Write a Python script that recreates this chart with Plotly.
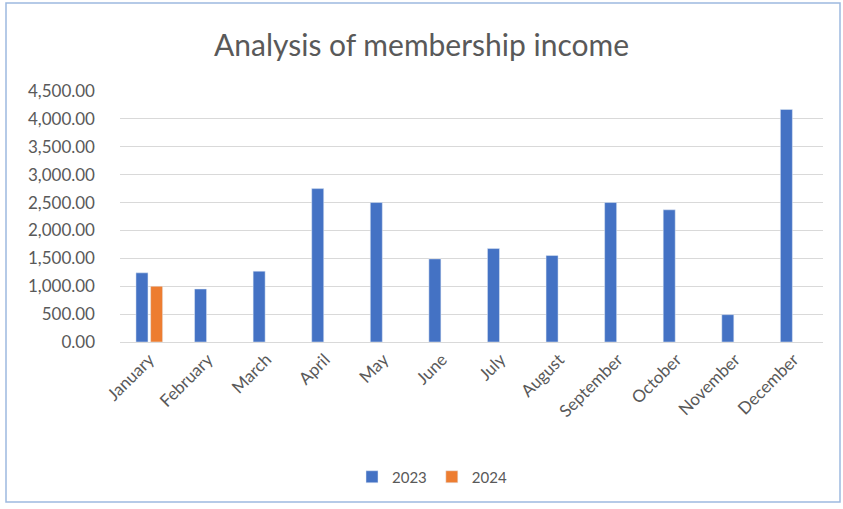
import plotly.graph_objects as go

months = ["January", "February", "March", "April", "May", "June", "July",
          "August", "September", "October", "November", "December"]
income_2023 = [1240, 950, 1270, 2750, 2500, 1490, 1675, 1550, 2500, 2370, 490, 4170]
income_2024 = [1000, None, None, None, None, None, None, None, None, None, None, None]

fig = go.Figure()
fig.add_trace(go.Bar(name="2023", x=months, y=income_2023, marker_color="#4472C4"))
fig.add_trace(go.Bar(name="2024", x=months, y=income_2024, marker_color="#ED7D31"))

W, H = 843, 509
ml, mr, mt, mb = 120, 20, 91, 167
pw, ph = W - ml - mr, H - mt - mb

def px_x(x):
    return (x - ml) / pw

def px_y(y):
    return (H - mb - y) / ph

fig.update_layout(
    width=W, height=H,
    margin=dict(l=ml, r=mr, t=mt, b=mb),
    paper_bgcolor="white", plot_bgcolor="white",
    font=dict(family="Lato, Open Sans, sans-serif", color="#595959", size=13),
    title=dict(text="Analysis of membership income", x=0.5, xanchor="center",
               y=1 - 45 / H, yanchor="middle",
               font=dict(size=30, color="#595959")),
    barmode="group", bargap=0.5, bargroupgap=0.18,
    showlegend=True,
    legend=dict(orientation="h", x=px_x(432), xanchor="center",
                y=px_y(477), yanchor="middle", font=dict(size=15),
                itemwidth=30),
    shapes=[dict(type="rect", xref="paper", yref="paper",
                 x0=px_x(6), x1=px_x(840), y0=px_y(502), y1=px_y(3),
                 line=dict(color="#9DB9E0", width=1.5), layer="below")],
)
fig.update_yaxes(range=[0, 4500], dtick=500, tickformat=",.2f",
                 gridcolor="#D9D9D9", gridwidth=1, zeroline=False,
                 showline=False, ticks="", tickfont=dict(size=17),
                 ticklabelstandoff=24)
fig.update_xaxes(tickangle=-45, showline=True, linecolor="#D9D9D9",
                 ticks="", tickfont=dict(size=17))

fig.write_html("out.html")
